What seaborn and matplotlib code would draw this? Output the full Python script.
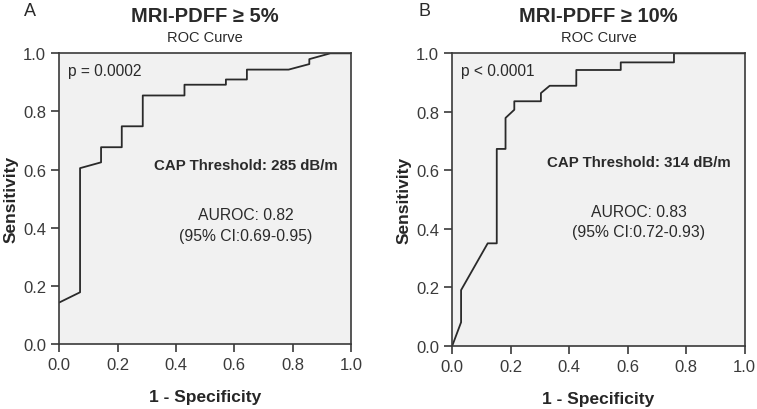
import pandas as pd
import seaborn as sns
import matplotlib.pyplot as plt

# ROC curve A: MRI-PDFF >= 5%
fpr_a = [0.0, 0.071, 0.071, 0.143, 0.143, 0.214, 0.214, 0.286, 0.286, 0.429, 0.429,
         0.571, 0.571, 0.643, 0.643, 0.786, 0.857, 0.857, 0.929, 1.0]
tpr_a = [0.143, 0.178, 0.605, 0.625, 0.677, 0.677, 0.749, 0.749, 0.855, 0.855, 0.892,
         0.892, 0.910, 0.910, 0.944, 0.944, 0.963, 0.980, 1.0, 1.0]

# ROC curve B: MRI-PDFF >= 10%
fpr_b = [0.0, 0.030, 0.030, 0.121, 0.152, 0.152, 0.182, 0.182, 0.212, 0.212, 0.303,
         0.303, 0.333, 0.424, 0.424, 0.576, 0.576, 0.758, 0.758, 1.0]
tpr_b = [0.0, 0.080, 0.190, 0.350, 0.350, 0.673, 0.673, 0.779, 0.807, 0.836, 0.836,
         0.864, 0.889, 0.889, 0.943, 0.943, 0.969, 0.969, 1.0, 1.0]

titles = ["MRI-PDFF \u2265 5%", "MRI-PDFF \u2265 10%"]
panel_letters = ["A", "B"]
p_texts = ["p = 0.0002", "p < 0.0001"]
thresholds = ["CAP Threshold: 285 dB/m", "CAP Threshold: 314 dB/m"]
aurocs = ["AUROC: 0.82", "AUROC: 0.83"]
cis = ["(95% CI:0.69-0.95)", "(95% CI:0.72-0.93)"]
ticks = [0.0, 0.2, 0.4, 0.6, 0.8, 1.0]

sns.set_style("ticks")
plt.rcParams["font.family"] = ["Liberation Sans", "DejaVu Sans"]
plt.rcParams["axes.edgecolor"] = "#3a3a3a"
plt.rcParams["xtick.color"] = "#3a3a3a"
plt.rcParams["ytick.color"] = "#3a3a3a"
plt.rcParams["text.color"] = "#2a2a2a"

fig = plt.figure(figsize=(7.57, 4.10), dpi=100)
ax_a = fig.add_axes([0.0784, 0.1585, 0.3853, 0.709])
ax_b = fig.add_axes([0.5975, 0.1545, 0.3863, 0.713])

curves = [(fpr_a, tpr_a), (fpr_b, tpr_b)]
text_pos = [(0.64, 0.617, 0.444, 0.375), (0.638, 0.627, 0.458, 0.391)]

for i, ax in enumerate([ax_a, ax_b]):
    df = pd.DataFrame({"fpr": curves[i][0], "tpr": curves[i][1]})
    sns.lineplot(data=df, x="fpr", y="tpr", ax=ax, sort=False, estimator=None,
                 color="#2a2a2a", linewidth=1.3)
    ax.set_facecolor("#f1f1f1")
    ax.set_xlim(0, 1)
    ax.set_ylim(0, 1)
    ax.set_xticks(ticks)
    ax.set_yticks(ticks)
    ax.set_xticklabels([f"{t:.1f}" for t in ticks])
    ax.set_yticklabels([f"{t:.1f}" for t in ticks])
    ax.tick_params(length=6, width=1.2, labelsize=12, pad=3.5)
    for s in ax.spines.values():
        s.set_linewidth(1.2)
    ax.set_xlabel("1 - Specificity", fontsize=12.5, fontweight="bold", labelpad=12)
    ax.set_ylabel("Sensitivity", fontsize=12.5, fontweight="bold", labelpad=3)

    tx, ty, ay, cy = text_pos[i]
    ax.text(0.029, 0.94, p_texts[i], fontsize=11.2, ha="left", va="center", transform=ax.transAxes)
    ax.text(tx, ty, thresholds[i], fontsize=10.8, fontweight="bold", ha="center", va="center",
            transform=ax.transAxes)
    ax.text(tx, ay, aurocs[i], fontsize=11.3, ha="center", va="center", transform=ax.transAxes)
    ax.text(tx, cy, cis[i], fontsize=11.3, ha="center", va="center", transform=ax.transAxes)

    ax.text(0.5, 1.129, titles[i], fontsize=14.5, fontweight="bold", ha="center", va="center",
            transform=ax.transAxes)
    ax.text(0.5, 1.056, "ROC Curve", fontsize=10.5, ha="center", va="center",
            transform=ax.transAxes)

fig.text(30 / 757, 1 - 11 / 410, panel_letters[0], fontsize=13, ha="center", va="center")
fig.text(424 / 757, 1 - 11 / 410, panel_letters[1], fontsize=13, ha="center", va="center")

plt.savefig("out.png", dpi=100)
